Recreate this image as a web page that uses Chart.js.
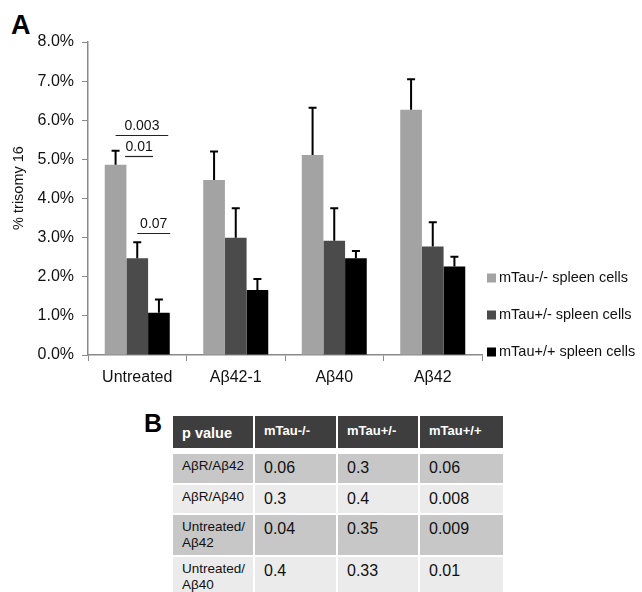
<!DOCTYPE html>
<html>
<head>
<meta charset="utf-8">
<script src="https://cdn.jsdelivr.net/npm/chart.js@4/dist/chart.umd.min.js"></script>
<style>
  body { margin: 0; background: #fff; font-family: Arial, "Liberation Sans", sans-serif; }
  #wrap { position: relative; width: 642px; height: 592px; overflow: hidden; }
  #chartBox { position: absolute; left: 0; top: 0; width: 642px; height: 395px; }
  .panel { position: absolute; font-weight: bold; color: #000; line-height: 1; }
  table { position: absolute; left: 171px; top: 414px; border-collapse: separate; border-spacing: 2px;
          table-layout: fixed; font-family: Arial, "Liberation Sans", sans-serif; }
  td, th { padding: 0 0 0 9px; text-align: left; vertical-align: top; overflow: hidden; }
  th { background: #3e3e3e; color: #fff; font-size: 13px; height: 36px; padding-top: 7px; box-sizing: border-box;
       border-bottom: 4px solid #fff; background-clip: padding-box; }
  th.first { font-size: 14.5px; padding-top: 9px; }
  tr.odd td { background: #c7c7c7; }
  tr.even td { background: #ebebeb; }
  td { font-size: 16px; color: #111; padding-top: 5px; box-sizing: border-box; }
  td.lbl { font-size: 13.5px; padding-top: 4px; line-height: 16px; }
</style>
</head>
<body>
<div id="wrap">
  <div class="panel" style="left:11px;top:12px;font-size:27px;">A</div>
  <div id="chartBox"><canvas id="chart" width="642" height="395"></canvas></div>
  <div class="panel" style="left:144px;top:411px;font-size:25px;">B</div>
  <table id="pTable"></table>
</div>
<script>
const categories = ['Untreated', 'Aβ42-1', 'Aβ40', 'Aβ42'];
const seriesNames = ['mTau-/- spleen cells', 'mTau+/- spleen cells', 'mTau+/+ spleen cells'];
const seriesColors = ['#a3a3a3', '#4b4b4b', '#000000'];
const yTitle = '% trisomy 16';

// % trisomy 16
const mTauKO = [4.86, 4.47, 5.11, 6.27];
const mTauHet = [2.47, 3.00, 2.92, 2.77];
const mTauWT = [1.08, 1.66, 2.47, 2.26];

// upper error bar lengths
const errKO = [0.36, 0.73, 1.21, 0.78];
const errHet = [0.41, 0.75, 0.83, 0.62];
const errWT = [0.34, 0.28, 0.19, 0.25];

// significance bars over "Untreated"
const sigLabels = ['0.003', '0.01', '0.07'];
const sigLevels = [5.63, 5.09, 3.12];
const sigSpans = [[0, 2.43], [0.44, 1.73], [1, 2.52]];

// table B
const tableHeader = ['p value', 'mTau-/-', 'mTau+/-', 'mTau+/+'];
const tableRows = ['AβR/Aβ42', 'AβR/Aβ40', 'Untreated/<br>Aβ42', 'Untreated/<br>Aβ40'];
const pKO = ['0.06', '0.3', '0.04', '0.4'];
const pHet = ['0.3', '0.4', '0.35', '0.33'];
const pWT = ['0.06', '0.008', '0.009', '0.01'];
const rowHeights = [29, 28, 40, 36];
const colWidths = [80, 81, 80, 83];

const values = [mTauKO, mTauHet, mTauWT];
const errors = [errKO, errHet, errWT];

const errorBars = {
  id: 'errorBars',
  afterDatasetsDraw(chart) {
    const ctx = chart.ctx;
    const y = chart.scales.y;
    ctx.save();
    ctx.strokeStyle = '#000';
    ctx.lineWidth = 2;
    chart.data.datasets.forEach((ds, di) => {
      chart.getDatasetMeta(di).data.forEach((bar, i) => {
        const top = y.getPixelForValue(ds.data[i] + errors[di][i]);
        ctx.beginPath();
        ctx.moveTo(bar.x, bar.y);
        ctx.lineTo(bar.x, top);
        ctx.moveTo(bar.x - 4, top);
        ctx.lineTo(bar.x + 4, top);
        ctx.stroke();
      });
    });
    ctx.restore();
  }
};

const sigMarks = {
  id: 'sigMarks',
  afterDatasetsDraw(chart) {
    const ctx = chart.ctx;
    const y = chart.scales.y;
    const first = chart.getDatasetMeta(0).data[0];
    const w = first.width;
    ctx.save();
    ctx.strokeStyle = '#222';
    ctx.lineWidth = 1.2;
    ctx.fillStyle = '#111';
    ctx.font = '14px Arial, "Liberation Sans"';
    ctx.textAlign = 'center';
    ctx.textBaseline = 'bottom';
    sigLabels.forEach((lab, k) => {
      const x1 = first.x + sigSpans[k][0] * w;
      const x2 = first.x + sigSpans[k][1] * w;
      const py = Math.round(y.getPixelForValue(sigLevels[k])) + 0.5;
      ctx.beginPath();
      ctx.moveTo(x1, py);
      ctx.lineTo(x2, py);
      ctx.stroke();
      ctx.fillText(lab, (x1 + x2) / 2, py - 2);
    });
    ctx.restore();
  }
};

const sideLegend = {
  id: 'sideLegend',
  afterDraw(chart) {
    const ctx = chart.ctx;
    const left = chart.chartArea.right + 5;
    const rowsY = [278, 315, 352];
    ctx.save();
    ctx.font = '14.5px Arial, "Liberation Sans"';
    ctx.textBaseline = 'middle';
    ctx.textAlign = 'left';
    chart.data.datasets.forEach((ds, i) => {
      ctx.fillStyle = ds.backgroundColor;
      ctx.fillRect(left, rowsY[i] - 4.5, 9, 9);
      ctx.fillStyle = '#111';
      ctx.fillText(ds.label, left + 12, rowsY[i]);
    });
    // y axis title, a bit above the chart-area centre as in the original
    ctx.translate(19, 188);
    ctx.rotate(-Math.PI / 2);
    ctx.textAlign = 'center';
    ctx.font = '14.5px Arial, "Liberation Sans"';
    ctx.fillText(yTitle, 0, 0);
    ctx.restore();
  }
};

new Chart(document.getElementById('chart'), {
  type: 'bar',
  data: {
    labels: categories,
    datasets: values.map((v, i) => ({
      label: seriesNames[i],
      data: v,
      backgroundColor: seriesColors[i],
      categoryPercentage: 0.66,
      barPercentage: 1.0
    }))
  },
  options: {
    responsive: false,
    animation: false,
    layout: { padding: { top: 42, right: 160, left: 0, bottom: 0 } },
    plugins: { legend: { display: false }, tooltip: { enabled: false } },
    scales: {
      x: {
        afterFit(scale) { scale.height = 40; },
        grid: { display: true, drawOnChartArea: false, color: '#8a8a8a', tickLength: 6, offset: true },
        border: { color: '#8a8a8a', width: 1.5 },
        ticks: { color: '#111', font: { size: 16, family: 'Arial, "Liberation Sans"' }, padding: 7 }
      },
      y: {
        min: 0,
        max: 8,
        afterFit(scale) { scale.width = 88; },
        grid: { display: true, drawOnChartArea: false, color: '#8a8a8a', tickLength: 6 },
        border: { color: '#8a8a8a', width: 1.5 },
        ticks: {
          stepSize: 1,
          color: '#111',
          padding: 8,
          font: { size: 16, family: 'Arial, "Liberation Sans"' },
          callback: v => v.toFixed(1) + '%'
        }
      }
    }
  },
  plugins: [errorBars, sigMarks, sideLegend]
});

// table B
const table = document.getElementById('pTable');
let html = '<colgroup>' + colWidths.map(w => `<col style="width:${w}px">`).join('') + '</colgroup>';
html += '<tr>' + tableHeader.map((h, i) => `<th class="${i === 0 ? 'first' : ''}">${h}</th>`).join('') + '</tr>';
tableRows.forEach((r, i) => {
  html += `<tr class="${i % 2 === 0 ? 'odd' : 'even'}" style="height:${rowHeights[i]}px">` +
    `<td class="lbl">${r}</td><td>${pKO[i]}</td><td>${pHet[i]}</td><td>${pWT[i]}</td></tr>`;
});
table.innerHTML = html;
</script>
</body>
</html>
